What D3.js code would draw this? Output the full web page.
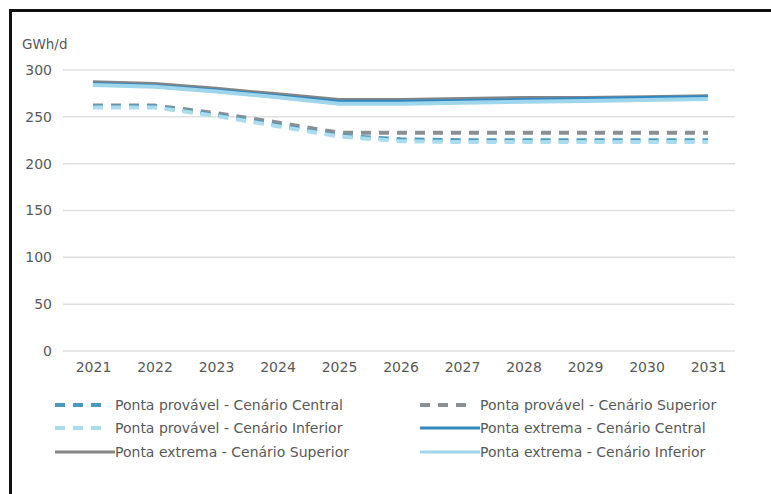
<!DOCTYPE html>
<html>
<head>
<meta charset="utf-8">
<script src="https://cdn.jsdelivr.net/npm/d3@7/dist/d3.min.js"></script>
<style>
  body { margin: 0; background: #fff; }
  svg text { font-family: "DejaVu Sans", Verdana, sans-serif; }
</style>
</head>
<body>
<svg id="chart" width="771" height="494"></svg>
<script>
// years on the x axis
var years = ["2021", "2022", "2023", "2024", "2025", "2026", "2027", "2028", "2029", "2030", "2031"];
var yTicks = [0, 50, 100, 150, 200, 250, 300];

// Ponta provável (dashed)
var provCentral  = [261, 261, 252, 241, 230, 226, 225, 225, 225, 225, 225];
var provSuperior = [262, 262, 254, 244, 233, 233, 233, 233, 233, 233, 233];
var provInferior = [260, 260, 251, 240, 229, 224, 223, 223, 223, 223, 223];
// Ponta extrema (solid)
var extCentral  = [285, 283, 278, 272, 266, 266, 267, 268, 269, 270, 271];
var extSuperior = [287, 285, 280, 274, 268, 268, 269, 270, 270, 271, 272];
var extInferior = [284, 282, 277, 271, 264, 264, 265, 266, 267, 268, 269];

var seriesNames = [
    "Ponta provável - Cenário Central",
    "Ponta provável - Cenário Superior",
    "Ponta provável  - Cenário Inferior",
    "Ponta extrema - Cenário Central",
    "Ponta extrema - Cenário Superior",
    "Ponta extrema - Cenário Inferior"
];

var series = [
    {name: seriesNames[0], values: provCentral,  color: "#4c9abb", dash: "10,8", w: 4},
    {name: seriesNames[1], values: provSuperior, color: "#8a8f94", dash: "10,8", w: 4},
    {name: seriesNames[2], values: provInferior, color: "#aadcee", dash: "10,8", w: 4},
    {name: seriesNames[3], values: extCentral,   color: "#3289c2", dash: null,   w: 4},
    {name: seriesNames[4], values: extSuperior,  color: "#858585", dash: null,   w: 4},
    {name: seriesNames[5], values: extInferior,  color: "#9fd6ec", dash: null,   w: 4}
];
// drawing order: superior first so the blue ones sit on top
var drawOrder = [1, 0, 2, 4, 3, 5];

var svg = d3.select("#chart");

svg.append("rect").attr("width", 771).attr("height", 494).attr("fill", "#fff");
// black frame (top and left edges of the cropped image)
svg.append("path")
    .attr("d", "M10.5,494 V10.5 H771")
    .attr("fill", "none")
    .attr("stroke", "#111")
    .attr("stroke-width", 3);

var x = d3.scalePoint().domain(years).range([93, 708]);
var y = d3.scaleLinear().domain([0, 300]).range([351, 70]);

// gridlines
svg.append("g")
    .selectAll("line")
    .data(yTicks)
    .enter().append("line")
    .attr("x1", 63).attr("x2", 735)
    .attr("y1", function (d) { return y(d); })
    .attr("y2", function (d) { return y(d); })
    .attr("stroke", "#e0e0e0")
    .attr("stroke-width", 1.5);

// y axis labels
var yAxis = svg.append("g")
    .attr("transform", "translate(52,0)")
    .call(d3.axisLeft(y).tickValues(yTicks).tickSize(0).tickPadding(0));
yAxis.select(".domain").remove();
yAxis.selectAll("text")
    .attr("font-size", 14)
    .attr("fill", "#595959")
    .style("font-family", "DejaVu Sans, sans-serif");

// x axis labels
var xAxis = svg.append("g")
    .attr("transform", "translate(0,362)")
    .call(d3.axisBottom(x).tickSize(0).tickPadding(0));
xAxis.select(".domain").remove();
xAxis.selectAll("text")
    .attr("font-size", 14)
    .attr("fill", "#595959")
    .style("font-family", "DejaVu Sans, sans-serif");

svg.append("text")
    .attr("x", 22).attr("y", 49)
    .attr("font-size", 13.5)
    .attr("fill", "#595959")
    .text("GWh/d");

var line = d3.line()
    .x(function (d, i) { return x(years[i]); })
    .y(function (d) { return y(d); });

drawOrder.forEach(function (k) {
    var s = series[k];
    svg.append("path")
        .datum(s.values)
        .attr("fill", "none")
        .attr("stroke", s.color)
        .attr("stroke-width", s.w)
        .attr("stroke-dasharray", s.dash)
        .attr("d", line);
});

// legend, two columns
var legendPos = [
    {x: 55, y: 405}, {x: 420, y: 405},
    {x: 55, y: 428}, {x: 420, y: 428},
    {x: 55, y: 452}, {x: 420, y: 452}
];
series.forEach(function (s, i) {
    var p = legendPos[i];
    var g = svg.append("g").attr("transform", "translate(" + p.x + "," + p.y + ")");
    g.append("line")
        .attr("x1", 0).attr("x2", s.dash ? 46 : 60)
        .attr("y1", 0).attr("y2", 0)
        .attr("stroke", s.color)
        .attr("stroke-width", s.dash ? 4 : 3)
        .attr("stroke-dasharray", s.dash);
    g.append("text")
        .attr("x", 60).attr("y", 5)
        .attr("font-size", 14)
        .attr("fill", "#595959")
        .text(s.name);
});
</script>
</body>
</html>
